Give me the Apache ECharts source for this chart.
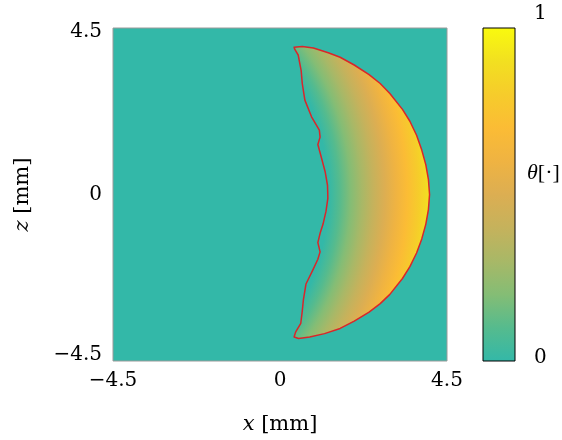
<!DOCTYPE html>
<html>
<head>
<meta charset="utf-8">
<script src="https://cdn.jsdelivr.net/npm/echarts@6/dist/echarts.min.js"></script>
<style>html,body{margin:0;padding:0;background:#fff}#c{width:562px;height:440px}</style>
</head>
<body>
<div id="c"></div>
<script>
// ---- data ----
const xTicks = [-4.5, 0, 4.5];
const zTicks = [-4.5, 0, 4.5];
const cbTicks = [0, 1];
// colormap of theta (value -> colour)
const cmapValues = [0, 0.1, 0.2, 0.3, 0.4, 0.5, 0.6, 0.7, 0.8, 0.9, 1.0];
const cmapColors = ['#33b8a8', '#55bb8e', '#84bd75', '#a8b867', '#c5b25c', '#dcae52', '#efb342', '#fbbc35', '#f6cc2b', '#f2e020', '#f9fa0e'];
// outer (front) boundary of the heated zone, [x, z] in mm, top to bottom
const outerBoundary = [
  [0.38, 3.98], [0.60, 4.00], [0.90, 3.96], [1.30, 3.83], [1.62, 3.71], [2.00, 3.50],
  [2.40, 3.24], [2.70, 3.00], [2.96, 2.73], [3.30, 2.30], [3.50, 1.98], [3.68, 1.60],
  [3.82, 1.20], [3.93, 0.80], [4.00, 0.40], [4.03, 0.00], [4.00, -0.40], [3.93, -0.80],
  [3.82, -1.20], [3.68, -1.58], [3.50, -1.95], [3.30, -2.27], [2.96, -2.70], [2.70, -2.95],
  [2.40, -3.18], [2.00, -3.42], [1.62, -3.62], [1.20, -3.76], [0.80, -3.85], [0.50, -3.89],
  [0.38, -3.85]
];
// inner (rear, wavy) boundary, [x, z] in mm, bottom to top
const innerBoundary = [
  [0.38, -3.85], [0.42, -3.72], [0.56, -3.48], [0.60, -3.15], [0.63, -2.85], [0.70, -2.42],
  [0.88, -2.05], [1.02, -1.75], [1.08, -1.55], [1.02, -1.30], [1.08, -1.05], [1.16, -0.80],
  [1.24, -0.45], [1.29, -0.10], [1.28, 0.25], [1.22, 0.60], [1.12, 0.98], [1.02, 1.35],
  [1.08, 1.55], [1.06, 1.74], [0.85, 2.10], [0.67, 2.55], [0.60, 3.00], [0.57, 3.35],
  [0.49, 3.77], [0.40, 3.92]
];

// ---- styles ----
const FONT = 'DejaVu Serif';
const FONT2 = 'Liberation Serif';
const gradCenter = [-5, 0];   // mm, centre of the radial shading
const gradInner = 6.3;        // mm from centre where theta = 0
const gradOuter = 9.03;       // mm from centre where theta = 0.9
const gradOuterValue = 0.9;

function fmt(v) { return (v < 0 ? '\u2212' : '') + Math.abs(v); }

const chart = echarts.init(document.getElementById('c'), null, {renderer: 'canvas'});

const crescentStops = [{offset: 0, color: cmapColors[0]}];
cmapValues.forEach((v, i) => {
  if (v <= gradOuterValue + 1e-9) {
    crescentStops.push({offset: (gradInner + v / gradOuterValue * (gradOuter - gradInner)) / gradOuter, color: cmapColors[i]});
  }
});
const barStops = cmapValues.map((v, i) => ({offset: v, color: cmapColors[i]}));

chart.setOption({
  animation: false,
  grid: [
    {left: 113, top: 28, width: 334, height: 333, show: true, backgroundColor: cmapColors[0], borderColor: '#9a9a9a', borderWidth: 1, containLabel: false, outerBoundsMode: 'none'},
    {left: 483, top: 28, width: 32, height: 333, show: false, containLabel: false, outerBoundsMode: 'none'}
  ],
  xAxis: [
    {
      gridIndex: 0, type: 'value', min: xTicks[0], max: xTicks[xTicks.length - 1], interval: 4.5,
      axisLine: {show: false}, axisTick: {show: false}, splitLine: {show: false},
      axisLabel: {margin: 10, color: '#000', fontFamily: FONT, fontSize: 20, formatter: fmt, showMinLabel: true, showMaxLabel: true},
      name: '{i|x} [mm]', nameLocation: 'middle', nameGap: 53, nameMoveOverlap: false,
      nameTextStyle: {color: '#000', fontFamily: FONT, fontSize: 21, rich: {i: {fontStyle: 'italic', fontFamily: FONT, fontSize: 21, color: '#000'}}}
    },
    {gridIndex: 1, type: 'value', min: 0, max: 1, show: false}
  ],
  yAxis: [
    {
      gridIndex: 0, type: 'value', min: zTicks[0], max: zTicks[zTicks.length - 1], interval: 4.5,
      axisLine: {show: false}, axisTick: {show: false}, splitLine: {show: false},
      axisLabel: {
        margin: 11, color: '#000', fontFamily: FONT, fontSize: 20, showMinLabel: true, showMaxLabel: true,
        formatter: v => v > 0 ? '{t|' + fmt(v) + '}' : (v < 0 ? '{b|' + fmt(v) + '}' : fmt(v)),
        rich: {
          t: {padding: [8, 0, 0, 0], fontFamily: FONT, fontSize: 20, color: '#000'},
          b: {padding: [0, 0, 12, 0], fontFamily: FONT, fontSize: 20, color: '#000'}
        }
      },
      name: '{i|z} [mm]', nameLocation: 'middle', nameGap: 80, nameMoveOverlap: false,
      nameTextStyle: {color: '#000', fontFamily: FONT, fontSize: 21, rich: {i: {fontStyle: 'italic', fontFamily: FONT, fontSize: 21, color: '#000'}}}
    },
    {
      gridIndex: 1, type: 'value', min: cbTicks[0], max: cbTicks[1], interval: 1, position: 'right',
      axisLine: {show: false}, axisTick: {show: false}, splitLine: {show: false},
      axisLabel: {
        margin: 19, color: '#000', fontFamily: FONT, fontSize: 20, showMinLabel: true, showMaxLabel: true,
        formatter: v => v === 1 ? '{t|1}' : '{b|0}',
        rich: {
          t: {padding: [0, 0, 28, 0], fontFamily: FONT, fontSize: 20, color: '#000'},
          b: {padding: [0, 0, 6, 0], fontFamily: FONT, fontSize: 20, color: '#000'}
        }
      },
      name: '{i|θ}[·]', nameLocation: 'middle', nameRotate: 0, nameGap: 12, nameMoveOverlap: false,
      nameTextStyle: {align: 'left', padding: [0, 0, 42, 0], color: '#000', fontFamily: FONT2, fontSize: 22, rich: {i: {fontStyle: 'italic', fontFamily: FONT2, fontSize: 22, color: '#000'}}}
    }
  ],
  series: [
    {
      type: 'custom', xAxisIndex: 0, yAxisIndex: 0, data: [0], silent: true,
      renderItem: (params, api) => {
        const pts = outerBoundary.concat(innerBoundary).map(p => api.coord(p));
        const c = api.coord(gradCenter);
        const r = api.size([gradOuter, 0])[0];
        return {
          type: 'polygon',
          shape: {points: pts},
          style: {
            fill: new echarts.graphic.RadialGradient(c[0], c[1], r, crescentStops, true),
            stroke: '#d9262a', lineWidth: 1.5, lineJoin: 'round'
          }
        };
      }
    },
    {
      type: 'custom', xAxisIndex: 1, yAxisIndex: 1, data: [0], silent: true,
      renderItem: (params, api) => {
        const p0 = api.coord([0, 0]);
        const p1 = api.coord([1, 1]);
        return {
          type: 'rect',
          shape: {x: p0[0], y: p1[1], width: p1[0] - p0[0], height: p0[1] - p1[1]},
          style: {fill: new echarts.graphic.LinearGradient(0, 1, 0, 0, barStops), stroke: '#000', lineWidth: 1}
        };
      }
    }
  ]
});
</script>
</body>
</html>
